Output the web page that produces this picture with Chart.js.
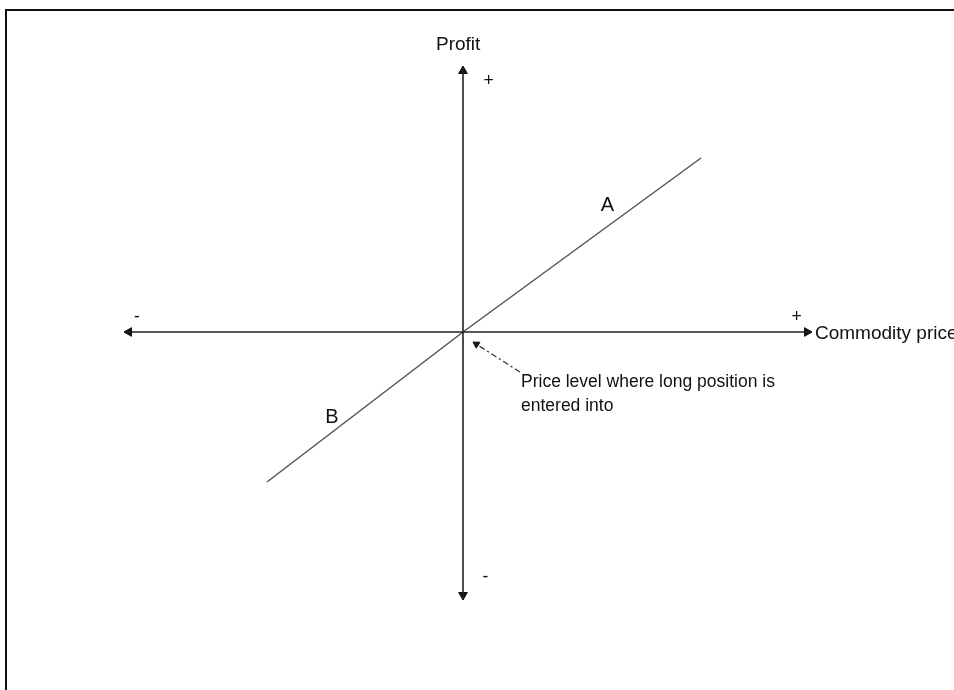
<!DOCTYPE html>
<html>
<head>
<meta charset="utf-8">
<script src="https://cdn.jsdelivr.net/npm/chart.js@4"></script>
<style>
  html, body { margin: 0; padding: 0; background: #ffffff; overflow: hidden; }
  #wrap { width: 954px; height: 690px; position: relative; }
</style>
</head>
<body>
<div id="wrap"><canvas id="c"></canvas></div>
<script>
// ---- data (schematic units: origin = entry price / zero profit) ----
const priceAxisX = [-339, 349];      // horizontal axis extent (commodity price)
const profitAxisY = [266, -268];     // vertical axis extent (profit)
const payoffX = [-196, 0, 238];      // long position payoff line
const payoffY = [-150, 0, 174];
const pointerX = [57, 10];           // dash-dot pointer from note to origin
const pointerY = [-40, -10];
const axisLabels = ['Profit', 'Commodity price'];
const signLabels = ['+', '-', '+', '-'];
const segmentLabels = ['A', 'B'];
const noteLines = ['Price level where long position is', 'entered into'];

// arrowheads: centre positions and rotations derived from the extents above
const headR = 5;
const heads = [
  { x: priceAxisX[0] + headR, y: 0, rot: 270 },
  { x: priceAxisX[1] - headR, y: 0, rot: 90 },
  { x: 0, y: profitAxisY[0] - headR, rot: 0 },
  { x: 0, y: profitAxisY[1] + headR, rot: 180 }
];
const pdx = pointerX[0] - pointerX[1], pdy = pointerY[0] - pointerY[1];
const plen = Math.hypot(pdx, pdy);
const pointerHead = {
  x: pointerX[1] + 4 * pdx / plen,
  y: pointerY[1] + 4 * pdy / plen,
  rot: Math.atan2(-pdx, -pdy) * 180 / Math.PI
};

const seg = (xs, ys) => xs.map((x, i) => ({ x, y: ys[i] }));

const textFont = '17.5px "Liberation Sans", Arial, sans-serif';
const axisFont = '19px "Liberation Sans", Arial, sans-serif';
const bigFont = '20px "Liberation Sans", Arial, sans-serif';
const labels = [
  { t: axisLabels[0], x: -27, y: 282, align: 'left', base: 'alphabetic', font: axisFont },
  { t: axisLabels[1], x: 352, y: -7, align: 'left', base: 'alphabetic', font: axisFont },
  { t: signLabels[0], x: 25.5, y: 251, align: 'center', base: 'middle', font: textFont },
  { t: signLabels[1], x: -326, y: 15, align: 'center', base: 'middle', font: textFont },
  { t: signLabels[2], x: 333.5, y: 15, align: 'center', base: 'middle', font: textFont },
  { t: signLabels[3], x: 22.5, y: -245, align: 'center', base: 'middle', font: textFont },
  { t: segmentLabels[0], x: 144.5, y: 127, align: 'center', base: 'middle', font: bigFont },
  { t: segmentLabels[1], x: -131, y: -85, align: 'center', base: 'middle', font: bigFont },
  { t: noteLines[0], x: 58, y: -55, align: 'left', base: 'alphabetic', font: textFont },
  { t: noteLines[1], x: 58, y: -79, align: 'left', base: 'alphabetic', font: textFont }
];

const decor = {
  id: 'decor',
  beforeDraw(chart) {
    const ctx = chart.ctx;
    ctx.save();
    ctx.strokeStyle = '#111';
    ctx.lineWidth = 2;
    ctx.strokeRect(6, 10, 1200, 1200);
    ctx.restore();
  },
  afterDraw(chart) {
    const ctx = chart.ctx, xs = chart.scales.x, ys = chart.scales.y;
    ctx.save();
    ctx.fillStyle = '#111';
    labels.forEach(l => {
      ctx.font = l.font;
      ctx.textAlign = l.align;
      ctx.textBaseline = l.base;
      ctx.fillText(l.t, xs.getPixelForValue(l.x), ys.getPixelForValue(l.y));
    });
    ctx.restore();
  }
};

new Chart(document.getElementById('c'), {
  type: 'scatter',
  data: {
    datasets: [
      { data: seg(priceAxisX, [0, 0]), showLine: true, borderColor: '#222', borderWidth: 1.6, pointRadius: 0 },
      { data: seg([0, 0], profitAxisY), showLine: true, borderColor: '#222', borderWidth: 1.6, pointRadius: 0 },
      { data: seg(payoffX, payoffY), showLine: true, borderColor: '#555', borderWidth: 1.5, pointRadius: 0 },
      { data: seg(pointerX, pointerY), showLine: true, borderColor: '#333', borderWidth: 1.3,
        borderDash: [6, 3, 2, 3], pointRadius: 0 },
      { data: heads.map(h => ({ x: h.x, y: h.y })), showLine: false, pointStyle: 'triangle',
        pointRadius: headR, pointRotation: heads.map(h => h.rot),
        backgroundColor: '#111', borderColor: '#111', borderWidth: 1 },
      { data: [{ x: pointerHead.x, y: pointerHead.y }], showLine: false, pointStyle: 'triangle',
        pointRadius: 4, pointRotation: pointerHead.rot,
        backgroundColor: '#111', borderColor: '#111', borderWidth: 1 }
    ]
  },
  options: {
    responsive: true,
    maintainAspectRatio: false,
    animation: false,
    layout: { padding: 0, autoPadding: false },
    plugins: { legend: { display: false }, tooltip: { enabled: false } },
    events: [],
    scales: {
      x: { type: 'linear', min: -463, max: 491, display: false },
      y: { type: 'linear', min: -358, max: 332, display: false }
    }
  },
  plugins: [decor]
});
</script>
</body>
</html>
